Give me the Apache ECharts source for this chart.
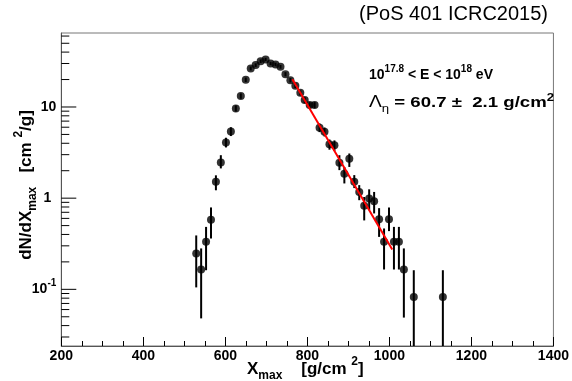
<!DOCTYPE html>
<html>
<head>
<meta charset="utf-8">
<script src="https://cdn.jsdelivr.net/npm/echarts@6/dist/echarts.min.js"></script>
<style>
html,body{margin:0;padding:0;background:#fff;}
#chart{width:572px;height:381px;}
</style>
</head>
<body>
<div id="chart"></div>
<script>
// ---- data ----
const xmaxValues = [529, 541, 553, 565, 577, 589, 601.5, 613.5, 625.6, 637.7, 649.8, 661.9, 674, 686.1, 698.2, 710.3, 722.4, 734.5, 746.6, 758.6, 770.7, 782.8, 793.5, 805.6, 817.7, 829.7, 841.8, 853.9, 866, 878.1, 890.2, 902.3, 914.4, 926.5, 938.6, 950.7, 962.8, 974.9, 987, 999, 1011.1, 1023.2, 1035.3, 1059.5, 1130.4];
const dNdX = [0.247, 0.165, 0.332, 0.578, 1.51, 2.46, 4.08, 5.39, 9.64, 13.2, 19.9, 26.5, 28.8, 31.8, 33.2, 30.0, 29.3, 27.6, 22.9, 19.7, 17.1, 14.3, 11.9, 10.5, 10.5, 5.93, 5.34, 3.91, 3.81, 2.45, 1.85, 2.70, 1.51, 1.17, 0.827, 0.99, 0.927, 0.588, 0.332, 0.588, 0.332, 0.332, 0.165, 0.0826, 0.0826];
const errLow = [0.105, 0.048, 0.162, 0.361, 1.22, 2.12, 3.6, 4.8, 8.9, 12.3, 18.8, 25.2, 27.5, 30.4, 31.8, 28.7, 28.0, 26.3, 21.7, 18.6, 16.1, 13.4, 11.0, 9.7, 9.7, 5.3, 4.75, 3.4, 3.3, 2.03, 1.45, 2.20, 1.29, 0.95, 0.57, 0.74, 0.68, 0.376, 0.165, 0.435, 0.165, 0.165, 0.049, 0.001, 0.001];
const errHigh = [0.39, 0.281, 0.484, 0.791, 1.78, 2.96, 4.6, 6.0, 10.4, 14.1, 21.0, 27.8, 30.1, 33.2, 34.6, 31.3, 30.6, 28.9, 24.1, 20.8, 18.1, 15.2, 12.8, 11.3, 11.3, 6.6, 5.95, 4.4, 4.3, 2.96, 2.2, 3.09, 1.79, 1.39, 1.03, 1.25, 1.17, 0.777, 0.465, 0.79, 0.484, 0.484, 0.281, 0.162, 0.162];
const fitX = [763.5, 1007];
const fitY = [20.2, 0.274];
const yMajorTicks = [0.1, 1, 10];
const yMinorTicks = [0.03, 0.04, 0.05, 0.06, 0.07, 0.08, 0.09, 0.2, 0.3, 0.4, 0.5, 0.6, 0.7, 0.8, 0.9, 2, 3, 4, 5, 6, 7, 8, 9, 20, 30, 40, 50, 60];
const xMin = 200, xMax = 1400, xStep = 200;
const yMin = 0.0239, yMax = 64.8;

const FONT = "'Liberation Sans', Arial, Helvetica, sans-serif";

const points = xmaxValues.map((x, i) => [x, dNdX[i]]);
const bars = xmaxValues.map((x, i) => [x, errLow[i], errHigh[i]]);
const fitLine = fitX.map((x, i) => [x, fitY[i]]);

function tickSeries(values, len) {
  return {
    type: 'custom',
    silent: true,
    z: 5,
    data: values.map(v => [xMin, v]),
    renderItem: function (params, api) {
      const p = api.coord([api.value(0), api.value(1)]);
      const cs = params.coordSys;
      return {
        type: 'line',
        shape: { x1: cs.x, y1: p[1], x2: cs.x + len, y2: p[1] },
        style: { stroke: '#000', lineWidth: 1 }
      };
    }
  };
}

const chart = echarts.init(document.getElementById('chart'), null, { renderer: 'canvas' });
chart.setOption({
  animation: false,
  backgroundColor: '#fff',
  grid: {
    left: 61.3, right: 14.5, top: 33, bottom: 35,
    show: true, borderColor: '#777', borderWidth: 1, backgroundColor: 'transparent'
  },
  xAxis: {
    type: 'value', min: xMin, max: xMax, interval: xStep,
    axisLine: { show: true, lineStyle: { color: '#555', width: 1 } },
    axisTick: { show: true, inside: true, length: 9, lineStyle: { color: '#000' } },
    minorTick: { show: true, splitNumber: 4, length: 5, lineStyle: { color: '#000' } },
    splitLine: { show: false },
    axisLabel: { margin: 3, fontSize: 14, fontWeight: 'bold', color: '#000', fontFamily: FONT,
      formatter: v => String(v) }
  },
  yAxis: {
    type: 'log', logBase: 10, min: yMin, max: yMax,
    axisLine: { show: true, lineStyle: { color: '#555', width: 1 } },
    axisTick: { show: false },
    splitLine: { show: false },
    axisLabel: {
      margin: 5, showMinLabel: false, showMaxLabel: false,
      color: '#000',
      formatter: function (v) {
        const e = Math.round(Math.log10(v));
        if (Math.abs(Math.log10(v) - e) > 1e-6) return '';
        if (e === 0) return '{one|1}';
        if (e === 1) return '{b|10}';
        return '{b|10}{s|' + e + '}';
      },
      rich: {
        b: { fontSize: 14, fontWeight: 'bold', fontFamily: FONT, color: '#000', lineHeight: 22, verticalAlign: 'middle' },
        one: { fontSize: 14, fontWeight: 'bold', fontFamily: FONT, color: '#000', lineHeight: 22, padding: [0, 5, 0, 0] },
        s: { fontSize: 10, fontWeight: 'bold', fontFamily: FONT, color: '#000', lineHeight: 10, verticalAlign: 'top' }
      }
    }
  },
  series: [
    tickSeries(yMajorTicks, 15),
    tickSeries(yMinorTicks, 8),
    {
      type: 'custom',
      silent: true,
      z: 3,
      data: bars,
      renderItem: function (params, api) {
        const x = api.value(0);
        const p1 = api.coord([x, api.value(2)]);
        const p2 = api.coord([x, api.value(1)]);
        const cs = params.coordSys;
        const yb = Math.min(p2[1], cs.y + cs.height);
        return {
          type: 'line',
          shape: { x1: p1[0], y1: p1[1], x2: p1[0], y2: yb },
          style: { stroke: '#000', lineWidth: 2 }
        };
      }
    },
    {
      type: 'scatter',
      data: points,
      symbol: 'circle',
      symbolSize: 8,
      itemStyle: { color: '#000' },
      z: 4
    },
    {
      type: 'line',
      data: fitLine,
      symbol: 'none',
      lineStyle: { color: '#ff0000', width: 2 },
      z: 6
    }
  ],
  graphic: [
    {
      type: 'text', x: 548, y: 14,
      style: { text: '(PoS 401 ICRC2015)', font: '20px ' + FONT, fill: '#000', align: 'right', verticalAlign: 'middle' }
    },
    {
      type: 'text', x: 369, y: 64,
      style: {
        text: '{b|10}{s|17.8}{b| < E < 10}{s|18}{b| eV}',
        align: 'left', verticalAlign: 'top',
        rich: {
          b: { fontSize: 14, fontWeight: 'bold', fontFamily: FONT, fill: '#000', lineHeight: 22, verticalAlign: 'middle' },
          s: { fontSize: 10, fontWeight: 'bold', fontFamily: FONT, fill: '#000', lineHeight: 8, verticalAlign: 'top' }
        }
      }
    },
    {
      type: 'text', x: 369, y: 92, scaleX: 1.2,
      style: {
        text: '{L|Λ}{u|η}{b| = 60.7 ±  2.1 g/cm}{s|2}',
        align: 'left', verticalAlign: 'top',
        rich: {
          L: { fontSize: 16, fontWeight: 'normal', fontFamily: FONT, fill: '#000', lineHeight: 22, verticalAlign: 'middle' },
          b: { fontSize: 15.5, fontWeight: 'bold', fontFamily: FONT, fill: '#000', lineHeight: 22, verticalAlign: 'middle' },
          s: { fontSize: 11, fontWeight: 'bold', fontFamily: FONT, fill: '#000', lineHeight: 8, verticalAlign: 'top' },
          u: { fontSize: 11, fontWeight: 'normal', fontFamily: FONT, fill: '#000', lineHeight: 8, verticalAlign: 'bottom' }
        }
      }
    },
    {
      type: 'text', x: 247, y: 356,
      style: {
        text: '{b|X}{u|max}{b|    [g/cm }{s|2}{b|]}',
        align: 'left', verticalAlign: 'top',
        rich: {
          b: { fontSize: 17, fontWeight: 'bold', fontFamily: FONT, fill: '#000', lineHeight: 26, verticalAlign: 'middle' },
          s: { fontSize: 12, fontWeight: 'bold', fontFamily: FONT, fill: '#000', lineHeight: 10, verticalAlign: 'top' },
          u: { fontSize: 12, fontWeight: 'bold', fontFamily: FONT, fill: '#000', lineHeight: 10, verticalAlign: 'bottom' }
        }
      }
    },
    {
      type: 'text', x: 26, y: 185, rotation: Math.PI / 2,
      style: {
        text: '{b|dN/dX}{u|max}{b|   [cm }{s|2}{b|/g]}',
        align: 'center', verticalAlign: 'middle',
        rich: {
          b: { fontSize: 17, fontWeight: 'bold', fontFamily: FONT, fill: '#000', lineHeight: 26, verticalAlign: 'middle' },
          s: { fontSize: 12, fontWeight: 'bold', fontFamily: FONT, fill: '#000', lineHeight: 10, verticalAlign: 'top' },
          u: { fontSize: 12, fontWeight: 'bold', fontFamily: FONT, fill: '#000', lineHeight: 10, verticalAlign: 'bottom' }
        }
      }
    }
  ]
});
</script>
</body>
</html>
